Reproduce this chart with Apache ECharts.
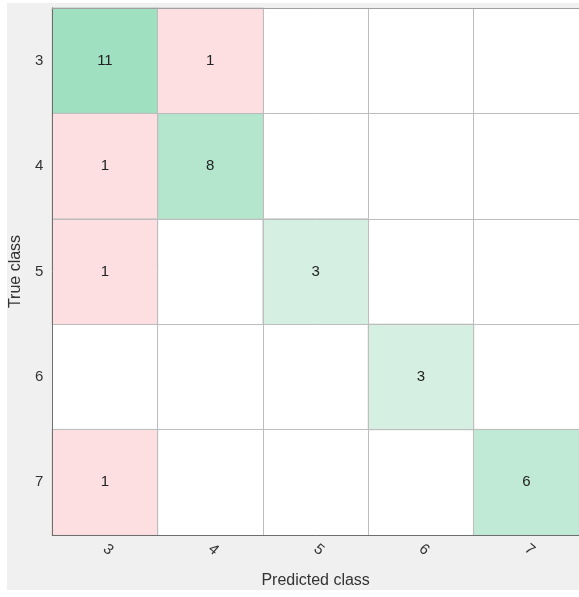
<!DOCTYPE html>
<html><head><meta charset="utf-8">
<script src="https://cdn.jsdelivr.net/npm/echarts@6/dist/echarts.min.js"></script>
<style>html,body{margin:0;padding:0;background:#fff}#c{width:579px;height:597px}</style>
</head><body><div id="c"></div>
<script>
const predictedClasses = ['3','4','5','6','7'];
const trueClasses = ['3','4','5','6','7'];
// [predictedIndex, trueIndex, count]
const diagonalCells = [[0,0,11],[1,1,8],[2,2,3],[3,3,3],[4,4,6]];
const offDiagonalCells = [[1,0,1],[0,1,1],[0,2,1],[0,4,1]];

const chart = echarts.init(document.getElementById('c'));
const font = 'Liberation Sans, Arial, sans-serif';
const frameLine = {show:true, lineStyle:{color:'#6e6e6e', width:1}};
chart.setOption({
  backgroundColor: '#ffffff',
  animation: false,
  graphic: [{type:'rect', z:-10, silent:true, shape:{x:7,y:3,width:572,height:587}, style:{fill:'#f0f0f0'}}],
  grid: {left:52, top:8, right:0, bottom:62, show:true, backgroundColor:'#ffffff', borderWidth:0},
  xAxis: [{
    type:'category', data: predictedClasses, position:'bottom', z:10,
    name:'Predicted class', nameLocation:'middle', nameGap:38,
    nameTextStyle:{fontFamily:font, fontSize:16, color:'#333'},
    axisLine:frameLine,
    axisTick:{show:false},
    axisLabel:{fontFamily:font, fontSize:15, color:'#333', rotate:-40, margin:12},
    splitLine:{show:true, lineStyle:{color:'#bdbdbd'}}
  },{
    type:'category', data: predictedClasses, position:'top', z:10,
    axisLine:{show:true, lineStyle:{color:'#a0a0a0', width:1}}, axisTick:{show:false}, axisLabel:{show:false}, splitLine:{show:false}
  }],
  yAxis: {
    type:'category', data: trueClasses, inverse:true, z:10,
    name:'True class', nameLocation:'middle', nameGap:24,
    nameTextStyle:{fontFamily:font, fontSize:16, color:'#333'},
    axisLine:frameLine,
    axisTick:{show:false},
    axisLabel:{fontFamily:font, fontSize:15, color:'#333', margin:9},
    splitLine:{show:true, lineStyle:{color:'#bdbdbd'}}
  },
  visualMap: [{
    show:false, type:'continuous', seriesIndex:0, dimension:2, min:3, max:11,
    inRange:{color:['#d5f0e3','#9ee0bf']}
  }],
  series: [
    {type:'heatmap', data: diagonalCells, z:2,
     label:{show:true, fontFamily:font, fontSize:15, color:'#222'},
     itemStyle:{borderColor:'#bdbdbd', borderWidth:0.5}},
    {type:'heatmap', data: offDiagonalCells, z:2,
     label:{show:true, fontFamily:font, fontSize:15, color:'#222'},
     itemStyle:{color:'#fedfe1', borderColor:'#bdbdbd', borderWidth:0.5}}
  ]
});
</script></body></html>
